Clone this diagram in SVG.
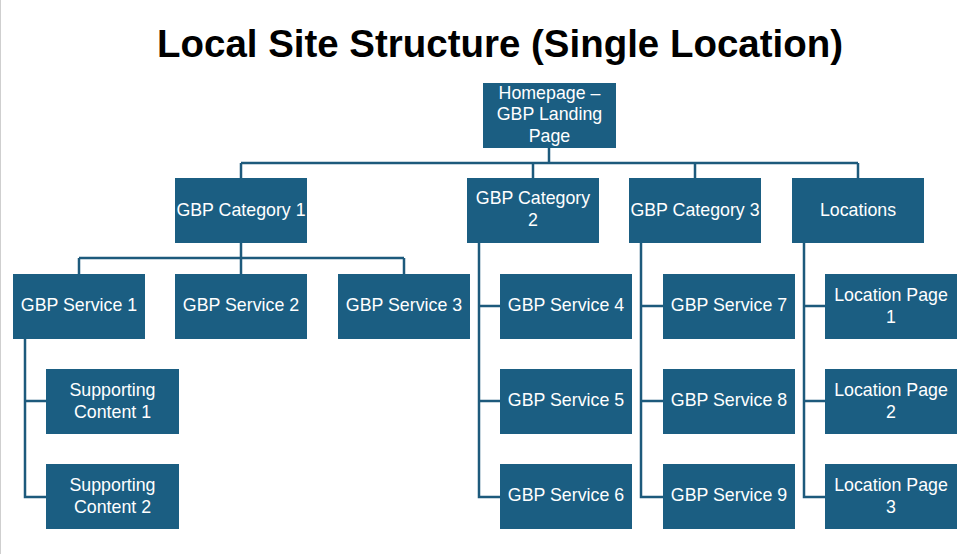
<svg xmlns="http://www.w3.org/2000/svg" width="978" height="554" viewBox="0 0 978 554">
<style>
.n rect{fill:#1B5E82;}
.n text{fill:#ffffff;font-family:"Liberation Sans",Arial,sans-serif;font-size:17.8px;text-anchor:middle;}
.c path{fill:none;stroke:#1D5A7C;stroke-width:2.5;}
.t{font-family:"Liberation Sans",Arial,sans-serif;font-weight:bold;font-size:38px;fill:#000;text-anchor:middle;}
</style>
<rect x="0" y="0" width="978" height="554" fill="#ffffff"/>
<line x1="0.5" y1="0" x2="0.5" y2="554" stroke="#cfcfcf" stroke-width="1"/>
<text class="t" x="500" y="57" textLength="686" lengthAdjust="spacingAndGlyphs">Local Site Structure (Single Location)</text>
<g class="c" id="connectors">
<path d="M549 148V163M241 163H858M241 163V178M533 163V178M695 163V178M858 163V178"/>
<path d="M241 243V258M79 258H404M79 258V274M241 258V274M404 258V274"/>
<path d="M25 339V497H46M25 401H46"/>
<path d="M479 243V497H500M479 306H500M479 401H500"/>
<path d="M641 243V497H663M641 306H663M641 401H663"/>
<path d="M804 243V497H825M804 306H825M804 401H825"/>
</g>
<g class="n" id="homepage"><rect x="483" y="83" width="133" height="65"/><text x="549.5" y="99">Homepage –</text><text x="549.5" y="120">GBP Landing</text><text x="549.5" y="142">Page</text></g>
<g class="n" id="cat1"><rect x="175" y="178" width="132" height="65"/><text x="241" y="216">GBP Category 1</text></g>
<g class="n" id="cat2"><rect x="467" y="178" width="132" height="65"/><text x="533" y="204">GBP Category</text><text x="533" y="226">2</text></g>
<g class="n" id="cat3"><rect x="629" y="178" width="132" height="65"/><text x="695" y="216">GBP Category 3</text></g>
<g class="n" id="locations"><rect x="792" y="178" width="132" height="65"/><text x="858" y="216">Locations</text></g>
<g class="n" id="svc1"><rect x="13" y="274" width="132" height="65"/><text x="79" y="311">GBP Service 1</text></g>
<g class="n" id="svc2"><rect x="175" y="274" width="132" height="65"/><text x="241" y="311">GBP Service 2</text></g>
<g class="n" id="svc3"><rect x="338" y="274" width="132" height="65"/><text x="404" y="311">GBP Service 3</text></g>
<g class="n" id="svc4"><rect x="500" y="274" width="132" height="65"/><text x="566" y="311">GBP Service 4</text></g>
<g class="n" id="svc5"><rect x="500" y="369" width="132" height="65"/><text x="566" y="406">GBP Service 5</text></g>
<g class="n" id="svc6"><rect x="500" y="464" width="132" height="65"/><text x="566" y="501">GBP Service 6</text></g>
<g class="n" id="svc7"><rect x="663" y="274" width="132" height="65"/><text x="729" y="311">GBP Service 7</text></g>
<g class="n" id="svc8"><rect x="663" y="369" width="132" height="65"/><text x="729" y="406">GBP Service 8</text></g>
<g class="n" id="svc9"><rect x="663" y="464" width="132" height="65"/><text x="729" y="501">GBP Service 9</text></g>
<g class="n" id="loc1"><rect x="825" y="274" width="132" height="65"/><text x="891" y="301">Location Page</text><text x="891" y="323">1</text></g>
<g class="n" id="loc2"><rect x="825" y="369" width="132" height="65"/><text x="891" y="396">Location Page</text><text x="891" y="418">2</text></g>
<g class="n" id="loc3"><rect x="825" y="464" width="132" height="65"/><text x="891" y="491">Location Page</text><text x="891" y="513">3</text></g>
<g class="n" id="sup1"><rect x="46" y="369" width="133" height="65"/><text x="112.5" y="396">Supporting</text><text x="112.5" y="418">Content 1</text></g>
<g class="n" id="sup2"><rect x="46" y="464" width="133" height="65"/><text x="112.5" y="491">Supporting</text><text x="112.5" y="513">Content 2</text></g>
</svg>
